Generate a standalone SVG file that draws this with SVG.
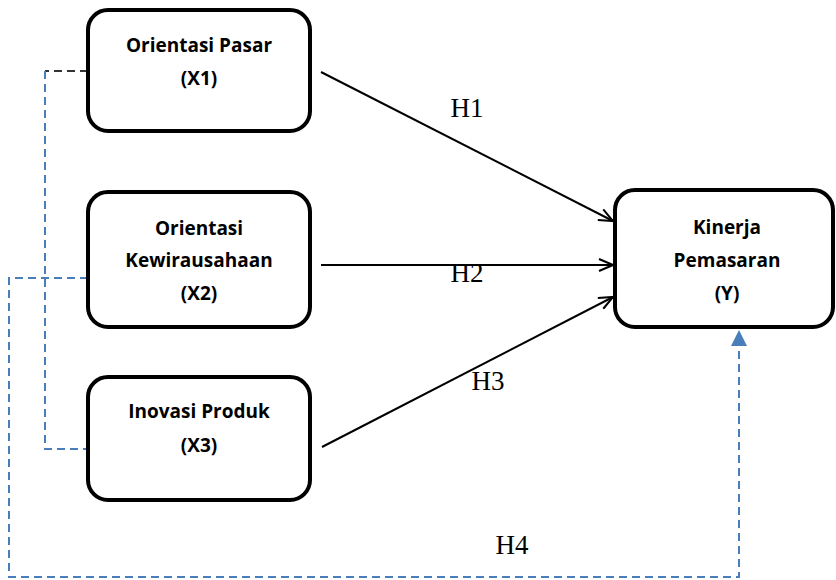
<svg xmlns="http://www.w3.org/2000/svg" width="836" height="580" viewBox="0 0 836 580">
<defs>
<style>
.box{fill:#fff;stroke:#000;stroke-width:4}
.lbl{font-family:"Open Sans","Liberation Sans",sans-serif;font-weight:bold;font-size:19px;fill:#000;text-anchor:middle}
.h{font-family:"Liberation Serif",serif;font-size:27px;fill:#000;text-anchor:middle}
.arr{stroke:#000;stroke-width:2;fill:none;marker-end:url(#open)}
.dash{stroke:#4a7ebb;stroke-width:2;fill:none;stroke-dasharray:8 5}
</style>
<marker id="open" viewBox="0 0 16 14" refX="15" refY="7" markerWidth="16" markerHeight="14" markerUnits="userSpaceOnUse" orient="auto">
<path d="M1,1 L15,7 L1,13" fill="none" stroke="#000" stroke-width="2"/>
</marker>
</defs>
<g id="connectors">
<line class="arr" x1="321" y1="72" x2="613" y2="221"/>
<line class="arr" x1="321" y1="265" x2="613" y2="265"/>
<line class="arr" x1="322" y1="447" x2="613" y2="297"/>
<path d="M88,71 H45" stroke="#333" stroke-width="2" stroke-dasharray="8 5" fill="none"/>
<path class="dash" d="M45,71 V449 H88"/>
<path class="dash" d="M88,278 H9 V577 H739 V345"/>
<path d="M739,330 L747,346 L731,346 Z" fill="#4a7ebb"/>
<text class="h" x="467" y="117">H1</text>
<text class="h" x="467" y="282">H2</text>
<text class="h" x="488" y="390">H3</text>
<text class="h" x="512" y="554">H4</text>
</g>
<g id="x1">
<rect class="box" x="88" y="10" width="222" height="121" rx="20"/>
<text class="lbl" x="199" y="52">Orientasi Pasar</text>
<text class="lbl" x="199" y="85">(X1)</text>
</g>
<g id="x2">
<rect class="box" x="88" y="192" width="222" height="135" rx="20"/>
<text class="lbl" x="199" y="235">Orientasi</text>
<text class="lbl" x="199" y="267">Kewirausahaan</text>
<text class="lbl" x="199" y="300">(X2)</text>
</g>
<g id="x3">
<rect class="box" x="88" y="377" width="222" height="123" rx="20"/>
<text class="lbl" x="199" y="418">Inovasi Produk</text>
<text class="lbl" x="199" y="452">(X3)</text>
</g>
<g id="y">
<rect class="box" x="615" y="190" width="218" height="137" rx="20"/>
<text class="lbl" x="727" y="234">Kinerja</text>
<text class="lbl" x="727" y="267">Pemasaran</text>
<text class="lbl" x="727" y="300">(Y)</text>
</g>
</svg>
